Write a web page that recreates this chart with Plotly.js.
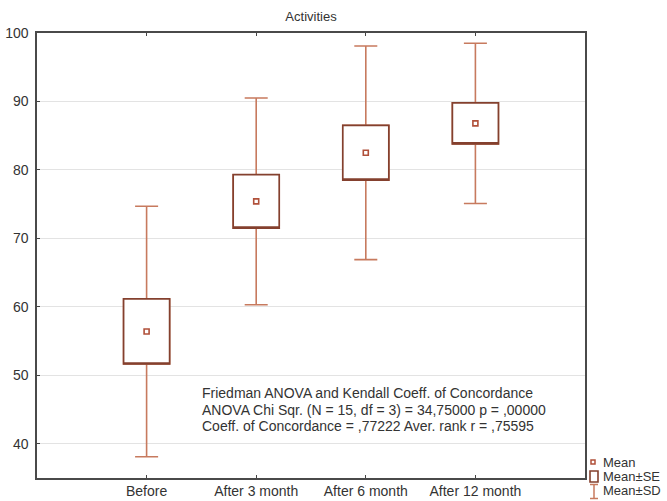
<!DOCTYPE html>
<html>
<head>
<meta charset="utf-8">
<script src="https://cdn.plot.ly/plotly-3.0.1.min.js"></script>
<style>
  html, body { margin: 0; padding: 0; background: #fff; }
  #chart { width: 667px; height: 501px; }
</style>
</head>
<body>
<div id="chart"></div>
<script>
// Activities score by follow-up time point: mean, standard error, standard deviation
const categories = ['Before', 'After 3 month', 'After 6 month', 'After 12 month'];
const meanValues = [56.4, 75.4, 82.5, 86.8];
const seValues   = [4.75, 3.9, 4.0, 3.0];
const sdValues   = [18.3, 15.1, 15.6, 11.7];
const yTickValues = [40, 50, 60, 70, 80, 90, 100];
const legendLabels = ['Mean', 'Mean\u00b1SE', 'Mean\u00b1SD'];
const statsNote = [
  'Friedman ANOVA and Kendall Coeff. of Concordance',
  'ANOVA Chi Sqr. (N = 15, df = 3) = 34,75000 p = ,00000',
  'Coeff. of Concordance = ,77222 Aver. rank r = ,75595'
];

const W = 667, H = 501;
const M = { l: 37, r: 82, t: 33, b: 23 };
const plotW = W - M.l - M.r, plotH = H - M.t - M.b;
const px = v => (v - M.l) / plotW;          // pixel -> paper x
const py = v => (H - M.b - v) / plotH;      // pixel -> paper y

const FONT = '"Liberation Sans", Arial, sans-serif';
const TEXT = '#333333';
const BOX_LINE = '#84402e';
const WHISKER = '#c77a5e';
const MEAN_COL = '#b0503a';

const lo = (a, b) => a.map((m, i) => m - b[i]);
const hi = (a, b) => a.map((m, i) => m + b[i]);

// Whiskers: mean ± SD with caps
const sdTrace = {
  type: 'box',
  x: categories,
  q1: lo(meanValues, seValues),
  median: lo(meanValues, seValues),
  q3: hi(meanValues, seValues),
  lowerfence: lo(meanValues, sdValues),
  upperfence: hi(meanValues, sdValues),
  width: 0.42,
  whiskerwidth: 0.5,
  boxpoints: false,
  line: { color: WHISKER, width: 1.6 },
  fillcolor: '#ffffff',
  hoverinfo: 'skip',
  showlegend: false
};

// Box: mean ± SE
const seTrace = {
  type: 'box',
  x: categories,
  q1: lo(meanValues, seValues),
  median: lo(meanValues, seValues),
  q3: hi(meanValues, seValues),
  lowerfence: lo(meanValues, seValues),
  upperfence: hi(meanValues, seValues),
  width: 0.42,
  whiskerwidth: 0,
  boxpoints: false,
  line: { color: BOX_LINE, width: 1.7 },
  fillcolor: '#ffffff',
  hoverinfo: 'skip',
  showlegend: false
};

// Mean markers
const meanTrace = {
  type: 'scatter',
  mode: 'markers',
  x: categories,
  y: meanValues,
  marker: { symbol: 'square-open', size: 5, color: MEAN_COL, line: { width: 1.6, color: MEAN_COL } },
  hoverinfo: 'skip',
  showlegend: false
};

// Legend glyphs drawn beside the plot frame
const shapes = [
  { type: 'rect', xref: 'paper', yref: 'paper',
    x0: px(591), x1: px(595), y0: py(460), y1: py(464),
    line: { color: MEAN_COL, width: 1.5 }, fillcolor: '#ffffff' },
  { type: 'rect', xref: 'paper', yref: 'paper',
    x0: px(590), x1: px(598), y0: py(471), y1: py(482),
    line: { color: BOX_LINE, width: 1.6 }, fillcolor: '#ffffff' },
  { type: 'line', xref: 'paper', yref: 'paper',
    x0: px(594), x1: px(594), y0: py(484), y1: py(499),
    line: { color: WHISKER, width: 1.5 } },
  { type: 'line', xref: 'paper', yref: 'paper',
    x0: px(590), x1: px(598), y0: py(484.5), y1: py(484.5),
    line: { color: WHISKER, width: 1.5 } },
  { type: 'line', xref: 'paper', yref: 'paper',
    x0: px(590), x1: px(598), y0: py(498.5), y1: py(498.5),
    line: { color: WHISKER, width: 1.5 } }
];

const legendY = [462, 476, 491];
const annotations = legendLabels.map((t, i) => ({
  xref: 'paper', yref: 'paper', x: px(601), y: py(legendY[i]),
  xanchor: 'left', yanchor: 'middle', showarrow: false,
  text: t, font: { family: FONT, size: 13, color: TEXT }
}));

const noteY = [393, 410, 426];
statsNote.forEach((t, i) => annotations.push({
  xref: 'paper', yref: 'paper', x: px(200), y: py(noteY[i]),
  xanchor: 'left', yanchor: 'middle', showarrow: false,
  text: t, font: { family: FONT, size: 14, color: TEXT }
}));

const layout = {
  width: W, height: H,
  margin: M,
  paper_bgcolor: '#ffffff',
  plot_bgcolor: '#ffffff',
  font: { family: FONT, size: 13, color: TEXT },
  title: {
    text: 'Activities',
    font: { family: FONT, size: 13, color: TEXT },
    xref: 'paper', x: 0.5, xanchor: 'center',
    yref: 'container', y: 1 - 16 / H, yanchor: 'middle'
  },
  boxmode: 'overlay',
  xaxis: {
    type: 'category',
    range: [-1, 4],
    showgrid: false,
    zeroline: false,
    showline: true, linecolor: '#4a4a4a', linewidth: 1.6,
    mirror: 'ticks',
    ticks: 'inside', ticklen: 3, tickwidth: 1, tickcolor: '#444',
    tickfont: { family: FONT, size: 14, color: TEXT },
    fixedrange: true
  },
  yaxis: {
    range: [35, 100],
    tickvals: yTickValues,
    showgrid: true, gridcolor: '#e3e3e3', gridwidth: 1,
    zeroline: false,
    showline: true, linecolor: '#4a4a4a', linewidth: 1.6,
    mirror: true,
    ticks: 'inside', ticklen: 3, tickwidth: 1, tickcolor: '#444',
    ticklabelstandoff: 4,
    tickfont: { family: FONT, size: 14, color: TEXT },
    fixedrange: true
  },
  shapes: shapes,
  annotations: annotations,
  showlegend: false
};

Plotly.newPlot('chart', [sdTrace, seTrace, meanTrace], layout, { displayModeBar: false, staticPlot: true });
</script>
</body>
</html>
